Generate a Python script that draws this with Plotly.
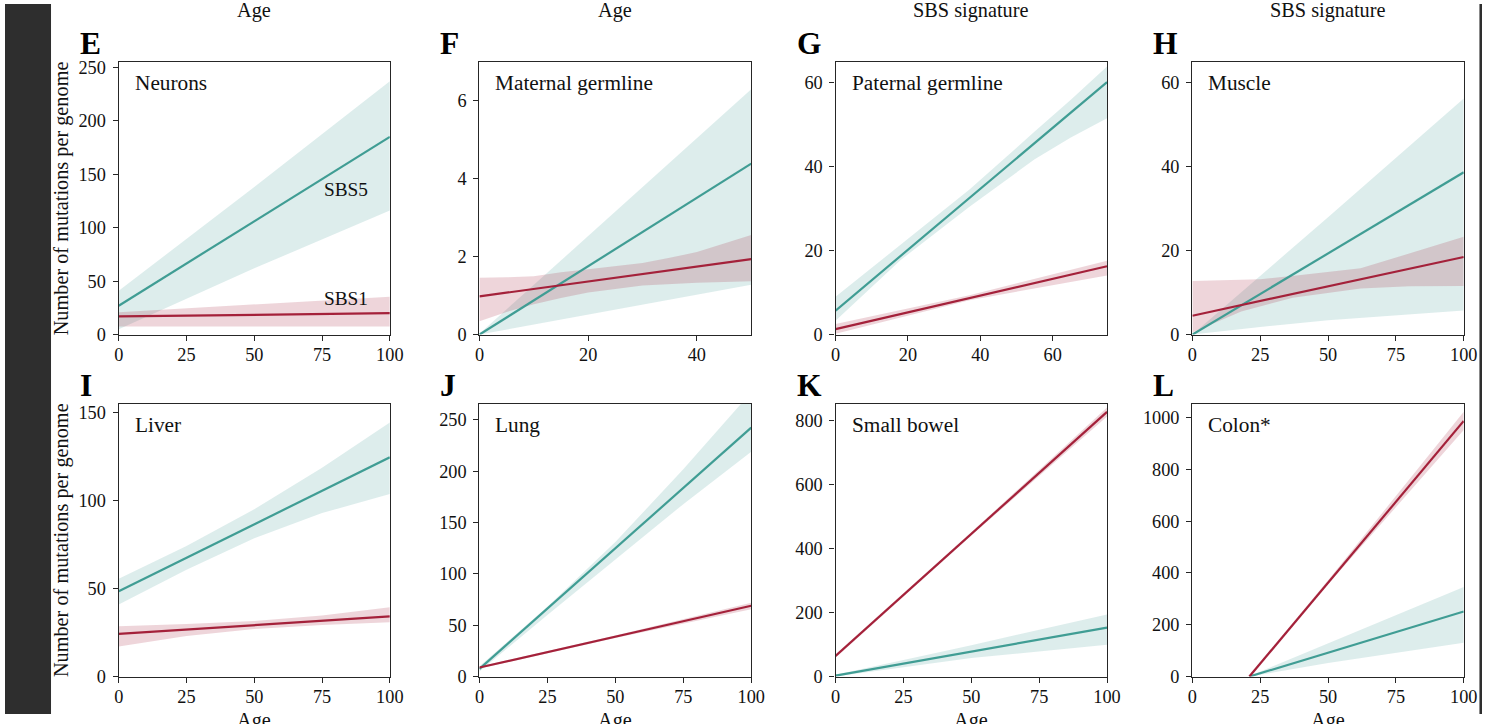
import plotly.graph_objects as go

# ---------------- data ----------------
panel_letters = ["E", "F", "G", "H", "I", "J", "K", "L"]
panel_names = ["Neurons", "Maternal germline", "Paternal germline", "Muscle",
               "Liver", "Lung", "Small bowel", "Colon*"]
top_titles = ["Age", "Age", "SBS signature", "SBS signature"]
bottom_titles = ["Age", "Age", "Age", "Age"]
y_title = "Number of mutations per genome"

x_ranges = [[0, 100], [0, 50], [0, 75], [0, 100], [0, 100], [0, 100], [0, 100], [0, 100]]
y_ranges = [[0, 255], [0, 7], [0, 65], [0, 65], [0, 155], [0, 266], [0, 852], [0, 1054]]
x_ticks = [[0, 25, 50, 75, 100], [0, 20, 40], [0, 20, 40, 60], [0, 25, 50, 75, 100],
           [0, 25, 50, 75, 100], [0, 25, 50, 75, 100], [0, 25, 50, 75, 100], [0, 25, 50, 75, 100]]
y_ticks = [[0, 50, 100, 150, 200, 250], [0, 2, 4, 6], [0, 20, 40, 60], [0, 20, 40, 60],
           [0, 50, 100, 150], [0, 50, 100, 150, 200, 250], [0, 200, 400, 600, 800],
           [0, 200, 400, 600, 800, 1000]]

# E Neurons
E_age = [0, 100]
E_sbs5 = [27, 185]
E_sbs5_band_age = [0, 50, 100]
E_sbs5_hi = [41, 138, 237]
E_sbs5_lo = [5, 62, 116]
E_sbs1 = [17, 20]
E_sbs1_band_age = [0, 100]
E_sbs1_hi = [21, 35.5]
E_sbs1_lo = [7.5, 7.5]

# F Maternal germline
F_age = [0, 50]
F_sbs5 = [0, 4.39]
F_sbs5_band_age = [0, 50]
F_sbs5_hi = [0.02, 6.3]
F_sbs5_lo = [0, 1.28]
F_sbs1 = [0.98, 1.94]
F_sbs1_band_age = [0, 5, 10, 15, 20, 30, 35, 40, 50]
F_sbs1_hi = [1.46, 1.47, 1.5, 1.6, 1.68, 1.84, 1.97, 2.12, 2.56]
F_sbs1_lo = [0.34, 0.58, 0.78, 0.94, 1.08, 1.26, 1.3, 1.33, 1.37]

# G Paternal germline
G_age = [0, 75]
G_sbs5 = [5.7, 60.2]
G_sbs5_band_age = [0, 18, 37, 55, 65, 75]
G_sbs5_hi = [9.0, 21.5, 34.6, 48.4, 56.0, 63.9]
G_sbs5_lo = [3.3, 17.8, 30.5, 41.8, 47.0, 51.6]
G_sbs1 = [1.3, 16.3]
G_sbs1_band_age = [0, 37, 75]
G_sbs1_hi = [2.5, 9.4, 17.6]
G_sbs1_lo = [0.2, 8.2, 14.1]

# H Muscle
H_age = [0, 100]
H_sbs5 = [0, 38.7]
H_sbs5_band_age = [0, 25, 50, 100]
H_sbs5_hi = [0, 14, 28, 56.3]
H_sbs5_lo = [0, 1.8, 3.4, 5.75]
H_sbs1 = [4.5, 18.5]
H_sbs1_band_age = [0, 25, 40, 62, 100]
H_sbs1_hi = [12.8, 13.2, 14.2, 15.8, 23.3]
H_sbs1_lo_age = [0, 18, 37, 62, 80, 100]
H_sbs1_lo = [0.5, 5.5, 8.8, 11.0, 11.5, 11.6]

# I Liver
I_age = [0, 100]
I_sbs5 = [48.4, 124.5]
I_sbs5_band_age = [0, 25, 50, 75, 100]
I_sbs5_hi = [55.6, 74.2, 95.0, 118.6, 144.3]
I_sbs5_lo = [40.9, 60.6, 78.6, 92.8, 103.7]
I_sbs1 = [24.2, 34.2]
I_sbs1_band_age = [0, 25, 50, 75, 100]
I_sbs1_hi = [28.6, 29.8, 31.5, 34.6, 39.3]
I_sbs1_lo = [17, 23.0, 27.0, 29.3, 30.8]

# J Lung
J_age = [0, 100]
J_sbs5 = [7.5, 242.5]
J_sbs5_band_age = [0, 25, 50, 75, 100]
J_sbs5_hi = [10, 68, 131, 202, 277]
J_sbs5_lo = [5, 60, 114, 168, 219]
J_sbs1 = [8.8, 69]
J_sbs1_band_age = [0, 50, 100]
J_sbs1_hi = [9.8, 40, 72]
J_sbs1_lo = [7.8, 37.5, 65.5]

# K Small bowel
K_age = [0, 100]
K_sbs5 = [3, 153]
K_sbs5_band_age = [0, 50, 100]
K_sbs5_hi = [6, 98, 194]
K_sbs5_lo = [0, 58, 99]
K_sbs1 = [64.5, 826]
K_sbs1_band_age = [0, 50, 100]
K_sbs1_hi = [70, 450, 840]
K_sbs1_lo = [59, 440, 812]

# L Colon*
L_age = [21, 100]
L_sbs5 = [0, 251]
L_sbs5_band_age = [21, 50, 100]
L_sbs5_hi = [2, 128, 346]
L_sbs5_lo = [0, 52, 131]
L_sbs1 = [0, 987]
L_sbs1_band_age = [21, 50, 100]
L_sbs1_hi = [4, 372, 1022]
L_sbs1_lo = [0, 356, 952]

sbs5_label = "SBS5"
sbs1_label = "SBS1"
sbs5_label_pos = [75, 136]
sbs1_label_pos = [75, 34]

panels = [
    (E_age, E_sbs5, E_sbs5_band_age, E_sbs5_hi, E_sbs5_band_age, E_sbs5_lo,
     E_sbs1, E_sbs1_band_age, E_sbs1_hi, E_sbs1_band_age, E_sbs1_lo),
    (F_age, F_sbs5, F_sbs5_band_age, F_sbs5_hi, F_sbs5_band_age, F_sbs5_lo,
     F_sbs1, F_sbs1_band_age, F_sbs1_hi, F_sbs1_band_age, F_sbs1_lo),
    (G_age, G_sbs5, G_sbs5_band_age, G_sbs5_hi, G_sbs5_band_age, G_sbs5_lo,
     G_sbs1, G_sbs1_band_age, G_sbs1_hi, G_sbs1_band_age, G_sbs1_lo),
    (H_age, H_sbs5, H_sbs5_band_age, H_sbs5_hi, H_sbs5_band_age, H_sbs5_lo,
     H_sbs1, H_sbs1_band_age, H_sbs1_hi, H_sbs1_lo_age, H_sbs1_lo),
    (I_age, I_sbs5, I_sbs5_band_age, I_sbs5_hi, I_sbs5_band_age, I_sbs5_lo,
     I_sbs1, I_sbs1_band_age, I_sbs1_hi, I_sbs1_band_age, I_sbs1_lo),
    (J_age, J_sbs5, J_sbs5_band_age, J_sbs5_hi, J_sbs5_band_age, J_sbs5_lo,
     J_sbs1, J_sbs1_band_age, J_sbs1_hi, J_sbs1_band_age, J_sbs1_lo),
    (K_age, K_sbs5, K_sbs5_band_age, K_sbs5_hi, K_sbs5_band_age, K_sbs5_lo,
     K_sbs1, K_sbs1_band_age, K_sbs1_hi, K_sbs1_band_age, K_sbs1_lo),
    (L_age, L_sbs5, L_sbs5_band_age, L_sbs5_hi, L_sbs5_band_age, L_sbs5_lo,
     L_sbs1, L_sbs1_band_age, L_sbs1_hi, L_sbs1_band_age, L_sbs1_lo),
]

# ---------------- style / layout ----------------
W, H = 1496, 724
# the photographed page appears slightly shrunk and shifted; positions below are
# given in reference-picture pixels and mapped back to figure pixels
SX, OX, SY, OY = 0.987, 4.0, 0.981, 3.0
FS = 1.015   # font compensation


def fx(px):
    return ((px - OX) / SX) / W


def fy(py):
    return 1 - ((py - OY) / SY) / H


def fs(size):
    return round(size * FS, 1)


FONT = "Liberation Serif"
TEAL = "#409d94"
RED = "#a4213a"
TEAL_BAND = "rgba(64,157,148,0.18)"
RED_BAND = "rgba(164,33,58,0.19)"
AX_COLOR = "#262626"
STRIP = "#2e2e2e"

col_left = [117.7, 478.3, 834.3, 1191.0]
col_right = [388.7, 750.0, 1105.7, 1462.3]
row_top = [61.0, 402.7]
row_bot = [333.7, 675.8]

fig = go.Figure()
layout = dict(
    width=W, height=H,
    margin=dict(l=0, r=0, t=0, b=0),
    paper_bgcolor="white", plot_bgcolor="white",
    showlegend=False,
    font=dict(family=FONT, color="#111111"),
)
annotations = []
shapes = []

for i, p in enumerate(panels):
    (age, s5, s5hx, s5hi, s5lx, s5lo, s1, s1hx, s1hi, s1lx, s1lo) = p
    r, c = divmod(i, 4)
    n = "" if i == 0 else str(i + 1)
    xa, ya = "x" + n, "y" + n
    fig.add_trace(go.Scatter(x=list(s5hx) + list(s5lx)[::-1], y=list(s5hi) + list(s5lo)[::-1],
                             fill="toself", fillcolor=TEAL_BAND, mode="lines",
                             line=dict(width=0), hoverinfo="skip", xaxis=xa, yaxis=ya))
    fig.add_trace(go.Scatter(x=list(s1hx) + list(s1lx)[::-1], y=list(s1hi) + list(s1lo)[::-1],
                             fill="toself", fillcolor=RED_BAND, mode="lines",
                             line=dict(width=0), hoverinfo="skip", xaxis=xa, yaxis=ya))
    fig.add_trace(go.Scatter(x=age, y=s5, mode="lines", line=dict(color=TEAL, width=2.2),
                             name=sbs5_label, xaxis=xa, yaxis=ya))
    fig.add_trace(go.Scatter(x=age, y=s1, mode="lines", line=dict(color=RED, width=2.2),
                             name=sbs1_label, xaxis=xa, yaxis=ya))

    common = dict(showline=True, mirror=True, linecolor=AX_COLOR, linewidth=1.4,
                  ticks="outside", ticklen=5, tickwidth=1.3, tickcolor=AX_COLOR,
                  showgrid=False, zeroline=False,
                  tickfont=dict(family=FONT, size=fs(18), color="#111111"))
    layout["xaxis" + n] = dict(common, domain=[fx(col_left[c]), fx(col_right[c])],
                               range=x_ranges[i], tickvals=x_ticks[i], anchor=ya,
                               ticklabelstandoff=-2)
    layout["yaxis" + n] = dict(common, domain=[fy(row_bot[r]), fy(row_top[r])],
                               range=y_ranges[i], tickvals=y_ticks[i], anchor=xa,
                               ticklabelstandoff=3)
    annotations.append(dict(text=panel_names[i], xref=xa + " domain", yref=ya + " domain",
                            x=14 / 271, y=1 - 21 / 273, xanchor="left", yanchor="middle",
                            showarrow=False, font=dict(family=FONT, size=fs(21), color="#111111")))
    annotations.append(dict(text="<b>" + panel_letters[i] + "</b>", xref="paper", yref="paper",
                            x=fx(col_left[c] - 41), y=fy(row_top[r] - 18),
                            xanchor="left", yanchor="middle", showarrow=False,
                            font=dict(family=FONT, size=fs(31), color="#000000")))

annotations.append(dict(text=sbs5_label, xref="x", yref="y", x=sbs5_label_pos[0], y=sbs5_label_pos[1],
                        xanchor="left", yanchor="middle", showarrow=False,
                        font=dict(family=FONT, size=fs(19), color="#111111")))
annotations.append(dict(text=sbs1_label, xref="x", yref="y", x=sbs1_label_pos[0], y=sbs1_label_pos[1],
                        xanchor="left", yanchor="middle", showarrow=False,
                        font=dict(family=FONT, size=fs(19), color="#111111")))

for r in range(2):
    annotations.append(dict(text=y_title, xref="paper", yref="paper", x=fx(60),
                            y=fy((row_top[r] + row_bot[r]) / 2), textangle=-90,
                            xanchor="center", yanchor="middle", showarrow=False,
                            font=dict(family=FONT, size=fs(20), color="#111111")))
for c in range(4):
    cx = fx((col_left[c] + col_right[c]) / 2)
    annotations.append(dict(text=top_titles[c], xref="paper", yref="paper", x=cx, y=fy(10),
                            xanchor="center", yanchor="middle", showarrow=False,
                            font=dict(family=FONT, size=fs(20), color="#111111")))
    annotations.append(dict(text=bottom_titles[c], xref="paper", yref="paper", x=cx, y=fy(720),
                            xanchor="center", yanchor="middle", showarrow=False,
                            font=dict(family=FONT, size=fs(20), color="#111111")))

shapes.append(dict(type="rect", xref="paper", yref="paper", x0=0, x1=fx(50), y0=0, y1=1,
                   fillcolor=STRIP, line=dict(width=0), layer="above"))
shapes.append(dict(type="rect", xref="paper", yref="paper", x0=fx(1478), x1=1, y0=0, y1=1,
                   fillcolor=STRIP, line=dict(width=0), layer="above"))

layout["annotations"] = annotations
layout["shapes"] = shapes
fig.update_layout(**layout)

post = ("document.body.style.margin='0';document.body.style.overflow='hidden';"
        "document.documentElement.style.background='linear-gradient(to right, %s 0%%, %s 3.34%%, "
        "#ffffff 3.34%%, #ffffff 98.8%%, %s 98.8%%, %s 100%%)';" % (STRIP, STRIP, STRIP, STRIP))
fig.write_html("out.html", config={"displayModeBar": False}, post_script=post)
